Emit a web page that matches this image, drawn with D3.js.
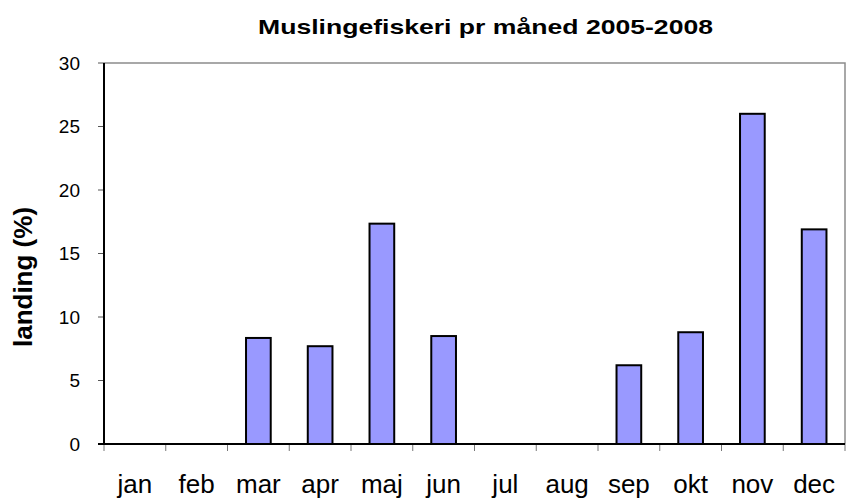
<!DOCTYPE html>
<meta charset="utf-8">
<style>
  body {
    margin: 0;
    background: #fff;
  }
  text {
    font-family: "Liberation Sans", Arial, sans-serif;
    fill: #000;
  }
</style>
<body>
  <script src="https://d3js.org/d3.v7.min.js"></script>
  <script>
    // data
    var months = ["jan", "feb", "mar", "apr", "maj", "jun", "jul", "aug", "sep", "okt", "nov", "dec"];
    var landing = [0, 0, 8.35, 7.7, 17.35, 8.5, 0, 0, 6.2, 8.8, 26.0, 16.9];
    var yTicks = [0, 5, 10, 15, 20, 25, 30];
    var title = "Muslingefiskeri pr måned 2005-2008";
    var yLabel = "landing (%)";

    var width = 846,
    height = 498,
    plotLeft = 104,
    plotRight = 845,
    plotTop = 63,
    plotBottom = 444;

    var svg = d3.select("body").append("svg")
    .attr("width", width)
    .attr("height", height);

    var x = d3.scaleBand()
    .domain(months)
    .range([plotLeft, plotRight])
    .padding(0);

    var y = d3.scaleLinear()
    .domain([0, 30])
    .range([plotBottom, plotTop]);

    var barW = x.bandwidth() * 0.4;

    // top and right frame (grey)
    svg.append("path")
    .attr("d", "M" + plotLeft + "," + plotTop + "H" + plotRight + "V" + plotBottom)
    .attr("fill", "none")
    .attr("stroke", "#8c8c8c")
    .attr("stroke-width", 1.5);

    // y ticks + labels
    svg.selectAll(".ytick")
    .data(yTicks)
    .join("line")
    .attr("class", "ytick")
    .attr("x1", plotLeft - 6)
    .attr("x2", plotLeft)
    .attr("y1", d => y(d))
    .attr("y2", d => y(d))
    .attr("stroke", "#555")
    .attr("stroke-width", 1);

    svg.selectAll(".ylab")
    .data(yTicks)
    .join("text")
    .attr("class", "ylab")
    .attr("x", 80)
    .attr("y", d => y(d))
    .attr("dy", "0.36em")
    .attr("text-anchor", "end")
    .style("font-size", "19px")
    .text(d => d);

    // x ticks at category boundaries
    var bounds = months.map(m => x(m)).concat([plotRight]);
    svg.selectAll(".xtick")
    .data(bounds)
    .join("line")
    .attr("class", "xtick")
    .attr("x1", d => d)
    .attr("x2", d => d)
    .attr("y1", plotBottom)
    .attr("y2", plotBottom + 7)
    .attr("stroke", "#777")
    .attr("stroke-width", 1);

    svg.selectAll(".xlab")
    .data(months)
    .join("text")
    .attr("class", "xlab")
    .attr("x", d => x(d) + x.bandwidth() / 2)
    .attr("y", 493)
    .attr("text-anchor", "middle")
    .style("font-size", "26px")
    .text(d => d);

    // bars
    svg.selectAll(".bar")
    .data(months.map((m, i) => ({m: m, v: landing[i]})).filter(d => d.v > 0))
    .join("rect")
    .attr("class", "bar")
    .attr("x", d => x(d.m) + (x.bandwidth() - barW) / 2)
    .attr("width", barW)
    .attr("y", d => y(d.v))
    .attr("height", d => y(0) - y(d.v))
    .attr("fill", "#9999ff")
    .attr("stroke", "#000")
    .attr("stroke-width", 2);

    // axis lines (black)
    svg.append("line")
    .attr("x1", plotLeft).attr("x2", plotLeft)
    .attr("y1", plotTop).attr("y2", plotBottom + 1)
    .attr("stroke", "#000").attr("stroke-width", 2);
    svg.append("line")
    .attr("x1", plotLeft - 6).attr("x2", plotRight)
    .attr("y1", plotBottom).attr("y2", plotBottom)
    .attr("stroke", "#000").attr("stroke-width", 2);

    // title
    svg.append("text")
    .attr("x", 485.5)
    .attr("y", 33.5)
    .attr("text-anchor", "middle")
    .attr("textLength", 455)
    .attr("lengthAdjust", "spacingAndGlyphs")
    .style("font-size", "21px")
    .style("font-weight", "bold")
    .text(title);

    // y axis title
    svg.append("text")
    .attr("transform", "translate(32,277) rotate(-90)")
    .attr("text-anchor", "middle")
    .style("font-size", "26px")
    .style("font-weight", "bold")
    .text(yLabel);
  </script>
</body>
